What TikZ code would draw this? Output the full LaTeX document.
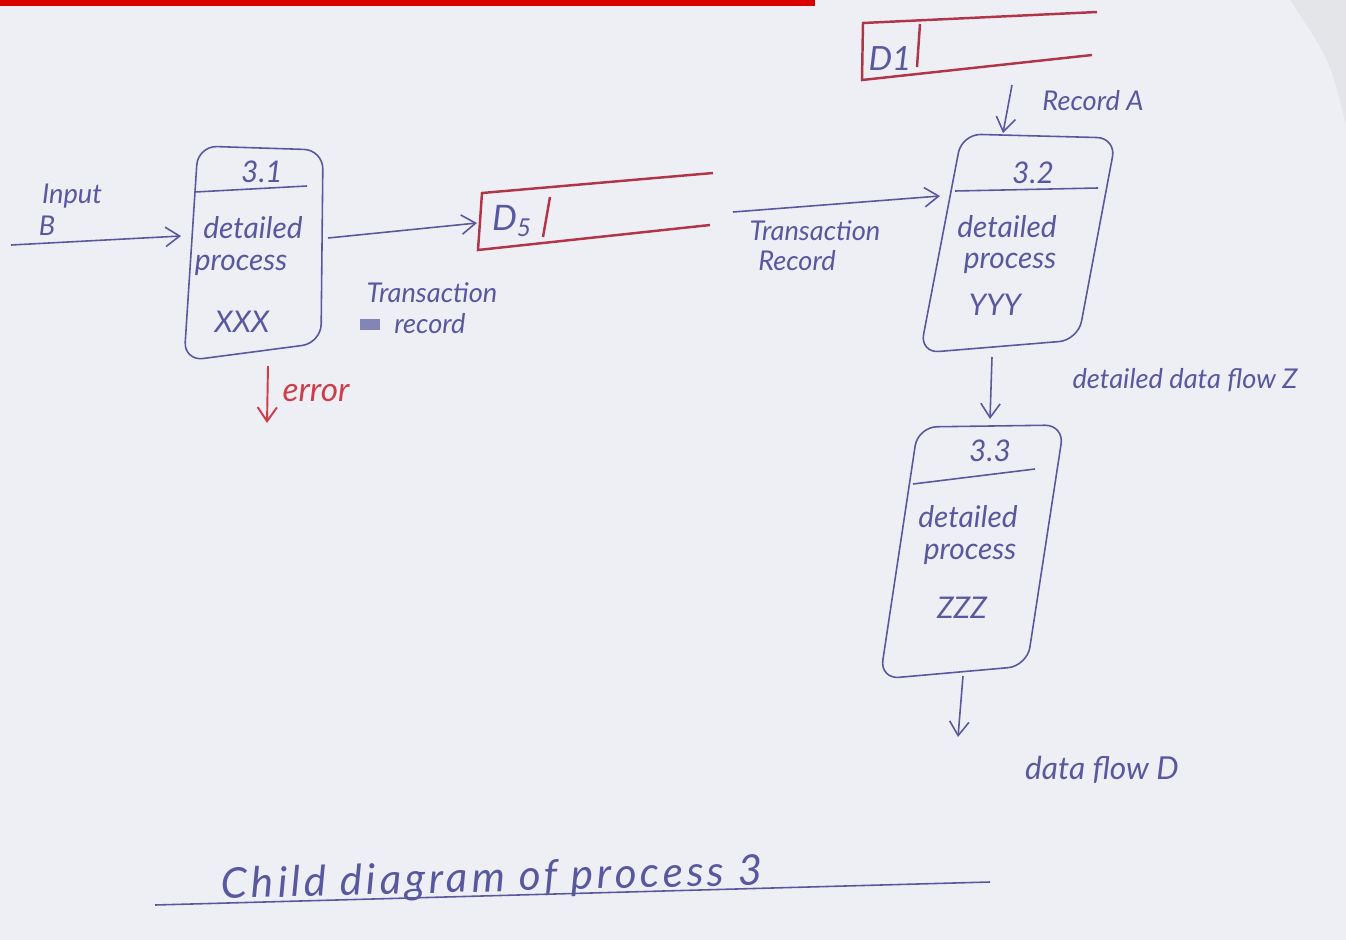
\documentclass[tikz,border=0pt]{standalone}
\usepackage{fontspec}
\setmainfont{Lato}
\usetikzlibrary{arrows.meta,calc}
\definecolor{paper}{RGB}{238,239,245}
\definecolor{inkc}{RGB}{88,88,158}
\definecolor{storec}{RGB}{178,52,72}
\definecolor{errc}{RGB}{205,62,72}
\definecolor{barc}{RGB}{218,0,0}
\tikzset{
  lbl/.style={font=\fontsize{17}{19}\selectfont\itshape, text=inkc, inner sep=0pt},
  flowlbl/.style={font=\fontsize{15.5}{17}\selectfont\itshape, text=inkc, inner sep=0pt},
  procbox/.style={draw=inkc, line width=0.9pt, rounded corners=0.38cm},
  divline/.style={draw=inkc, line width=0.9pt},
  storeline/.style={draw=storec, line width=1.4pt},
  flow/.style={draw=inkc, line width=0.9pt, -{Straight Barb[length=8pt,width=11pt]}},
  errflow/.style={draw=errc, line width=1.1pt, -{Straight Barb[length=8pt,width=11pt]}},
}
\begin{document}
\begin{tikzpicture}[x=0.02cm,y=-0.02cm]
\useasboundingbox (0,0) rectangle (1346,940);
\fill[paper] (0,0) rectangle (1346,940);
\fill[barc] (0,0) rectangle (815,6);
\fill[gray!30,opacity=0.45] (1290,0) -- (1346,0) -- (1346,125) .. controls (1330,60) .. (1290,0);

% ---------- process 3.1 ----------
\draw[procbox] (198,146) -- (323,150) -- (321,343) -- (184,361) -- cycle;
\draw[divline] (195,192) -- (307,186);
\node[lbl] (t31) at (262,172) {3.1};
\node[lbl] (d31a) at (253,228) {detailed};
\node[lbl] (d31b) at (241,265) {process};
\node[lbl] (d31c) at (242,322) {XXX};
\coordinate (p31w) at (181,236);
\coordinate (p31e) at (328,238);
\coordinate (p31s) at (268,366);

% ---------- process 3.2 ----------
\draw[procbox] (962,134) -- (1116,138) -- (1078,340) -- (920,353) -- cycle;
\draw[divline] (955,191) -- (1098,188);
\node[lbl] (t32) at (1033,173) {3.2};
\node[lbl] (d32a) at (1007,227) {detailed};
\node[lbl] (d32b) at (1010,263) {process};
\node[lbl] (d32c) at (995,305) {YYY};
\coordinate (p32w) at (940,196);
\coordinate (p32n) at (1003,133);
\coordinate (p32s) at (992,357);

% ---------- process 3.3 ----------
\draw[procbox] (918,427) -- (1064,425) -- (1027,666) -- (880,679) -- cycle;
\draw[divline] (913,484) -- (1035,469);
\node[lbl] (t33) at (990,451) {3.3};
\node[lbl] (d33a) at (968,517) {detailed};
\node[lbl] (d33b) at (970,554) {process};
\node[lbl] (d33c) at (962,608) {ZZZ};
\coordinate (p33n) at (990,419);
\coordinate (p33s) at (963,676);

% ---------- data store D5 ----------
\draw[storeline] (713,173) -- (482,193) -- (478,250) -- (710,225);
\draw[storeline] (550,197) -- (543,237);
\node[font=\fontsize{20}{22}\selectfont\itshape, text=inkc, inner sep=0pt] (d5) at (512,221) {D\textsubscript{5}};
\coordinate (d5w) at (477,223);
\coordinate (d5e) at (733,212);

% ---------- data store D1 ----------
\draw[storeline] (1097,12) -- (863,23) -- (862,80) -- (1092,55);
\draw[storeline] (920,24) -- (917,67);
\node[font=\fontsize{19}{21}\selectfont\itshape, text=inkc, inner sep=0pt] (d1) at (890,59) {D1};
\coordinate (d1s) at (1012,85);

% ---------- free ends ----------
\coordinate (inB) at (11,245);
\coordinate (errEnd) at (267,423);
\coordinate (outD) at (958,737);

% ---------- flows ----------
\draw[flow] (inB) -- (p31w);
\draw[flow] (p31e) -- (d5w);
\draw[flow] (d5e) -- (p32w);
\draw[flow] (d1s) -- (p32n);
\draw[flow] (p32s) -- (p33n);
\draw[flow] (p33s) -- (outD);
\draw[errflow] (p31s) -- (errEnd);

% ---------- labels ----------
\node[flowlbl] (linput) at (72,196) {Input};
\node[flowlbl] (lb) at (47,226) {B};
\node[flowlbl] (ltr1) at (432,293) {Transaction};
\node[flowlbl] (lrec1) at (430,324) {record};
\fill[inkc,opacity=0.7] (360,319) rectangle (380,330);
\node[flowlbl] (ltr2) at (815,231) {Transaction};
\node[flowlbl] (lrec2) at (797,261) {Record};
\node[flowlbl] (lreca) at (1093,101) {Record A};
\node[flowlbl] (ldfz) at (1185,380) {detailed data flow Z};
\node[font=\fontsize{18}{20}\selectfont\itshape, text=inkc, inner sep=0pt] (ldfd) at (1102,770) {data flow D};
\node[font=\fontsize{19}{21}\selectfont\itshape, text=errc, inner sep=0pt] (lerr) at (316,393) {error};

% ---------- caption ----------
\node[font=\fontsize{24}{27}\selectfont\itshape\addfontfeatures{LetterSpace=9}, text=inkc, inner sep=0pt, rotate=1.5] (cap) at (492,880) {Child diagram of process 3};
\draw[divline] (155,905) -- (990,882);
\end{tikzpicture}
\end{document}
